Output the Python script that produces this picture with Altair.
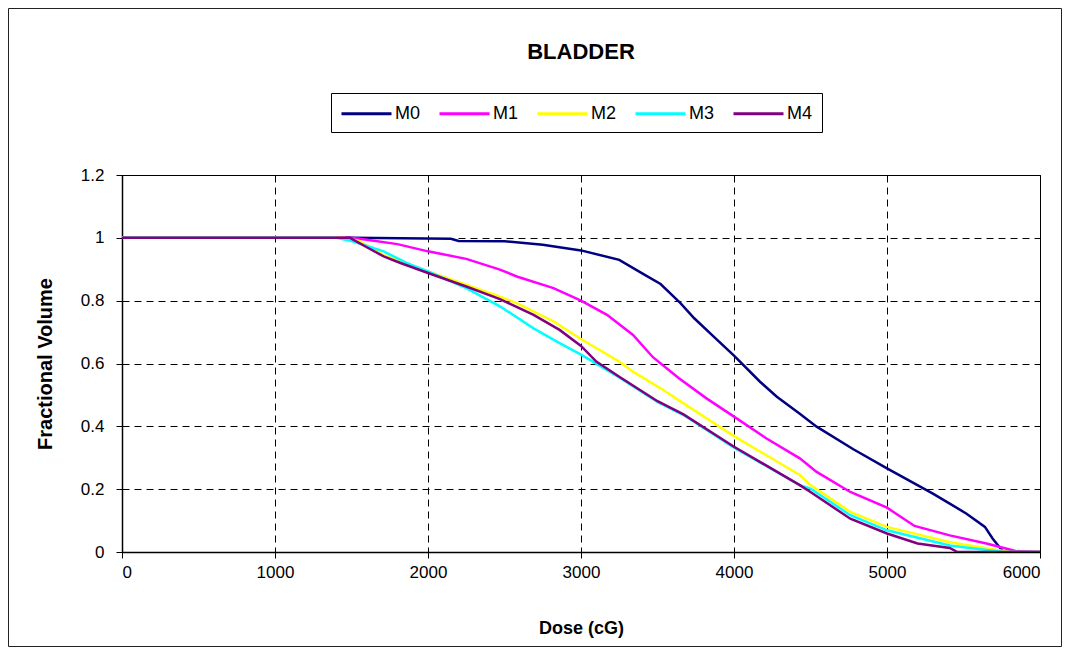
import altair as alt
import pandas as pd

# ---------------- data ----------------
series = ["M0", "M1", "M2", "M3", "M4"]
colors = ["#000080", "#FF00FF", "#FFFF00", "#00FFFF", "#800080"]

m0_dose = [0, 1500, 2150, 2200, 2500, 2750, 3000, 3250, 3400, 3520, 3650, 3740, 3890, 4000,
           4170, 4280, 4430, 4540, 4780, 5000, 5300, 5410, 5520, 5640, 5690, 5760, 6000]
m0_vol = [1, 1, 0.997, 0.99, 0.989, 0.978, 0.96, 0.93, 0.887, 0.853, 0.792, 0.744, 0.675, 0.625,
          0.542, 0.494, 0.44, 0.399, 0.327, 0.266, 0.186, 0.154, 0.122, 0.08, 0.043, 0, 0]

m1_dose = [0, 1500, 1600, 1800, 2000, 2250, 2470, 2580, 2820, 3000, 3170, 3340, 3470, 3640,
           3820, 4000, 4210, 4430, 4540, 4760, 5000, 5180, 5410, 5650, 5840, 6000]
m1_vol = [1, 1, 0.994, 0.98, 0.957, 0.933, 0.899, 0.877, 0.84, 0.8, 0.755, 0.691, 0.62, 0.553,
          0.489, 0.431, 0.362, 0.298, 0.255, 0.191, 0.141, 0.083, 0.053, 0.027, 0.003, 0]

m2_dose = [0, 1450, 1550, 1710, 2000, 2250, 2470, 2580, 2820, 3000, 3250, 3340, 3520, 3670,
           4000, 4430, 4500, 4760, 5000, 5410, 5740, 5800, 6000]
m2_vol = [1, 1, 0.99, 0.945, 0.893, 0.851, 0.813, 0.792, 0.734, 0.678, 0.606, 0.574, 0.521, 0.473,
          0.369, 0.245, 0.213, 0.128, 0.08, 0.031, 0.005, 0, 0]

m3_dose = [0, 1400, 1500, 1710, 1860, 2000, 2250, 2470, 2690, 2860, 3000, 3250, 3500, 3670,
           4000, 4430, 4500, 4760, 5000, 5410, 5760, 6000]
m3_vol = [1, 1, 0.99, 0.957, 0.92, 0.893, 0.84, 0.782, 0.712, 0.665, 0.628, 0.556, 0.478, 0.436,
          0.332, 0.213, 0.202, 0.117, 0.069, 0.021, 0, 0]

m4_dose = [0, 1490, 1600, 1710, 1820, 2000, 2250, 2470, 2690, 2860, 3000, 3100, 3250, 3500,
           3670, 4000, 4430, 4500, 4760, 5000, 5200, 5410, 5460, 6000]
m4_vol = [1, 1, 0.97, 0.941, 0.92, 0.888, 0.845, 0.805, 0.755, 0.707, 0.656, 0.606, 0.558, 0.48,
          0.438, 0.335, 0.213, 0.191, 0.106, 0.059, 0.027, 0.013, 0, 0]

x_ticks = [0, 1000, 2000, 3000, 4000, 5000, 6000]
y_ticks = [0, 0.2, 0.4, 0.6, 0.8, 1.0, 1.2]

rows = []
for name, doses, vols in [("M0", m0_dose, m0_vol), ("M1", m1_dose, m1_vol),
                          ("M2", m2_dose, m2_vol), ("M3", m3_dose, m3_vol),
                          ("M4", m4_dose, m4_vol)]:
    for i, (d, v) in enumerate(zip(doses, vols)):
        rows.append({"series": name, "dose": d, "vol": v, "idx": i})
df = pd.DataFrame(rows)

FONT = "Liberation Sans"
W, H = 918, 377
PAD = {"left": 114, "top": 167, "right": 22, "bottom": 95}

lines = alt.Chart(df).mark_line(strokeWidth=2.5, clip=True).encode(
    x=alt.X("dose:Q", scale=alt.Scale(domain=[0, 6000], nice=False),
            axis=alt.Axis(values=x_ticks, format="d", title="Dose (cG)",
                          labelPadding=6, titleY=76, titleBaseline="middle",
                          titleFontSize=18)),
    y=alt.Y("vol:Q", scale=alt.Scale(domain=[0, 1.2], nice=False),
            axis=alt.Axis(values=y_ticks, format=".1~f", title="Fractional Volume",
                          labelPadding=12, titleX=-77, titleY=H / 2,
                          titleBaseline="middle", titleAlign="center", titleAngle=-90,
                          titleFontSize=20)),
    color=alt.Color("series:N", scale=alt.Scale(domain=series, range=colors),
                    legend=alt.Legend(orient="none", legendX=209, legendY=-82,
                                      direction="horizontal", columns=5, title=None,
                                      symbolType="M-2.5,0H2.5", symbolSize=400,
                                      symbolOffset=15,
                                      symbolStrokeWidth=3, labelFont=FONT,
                                      labelFontSize=18, labelColor="black",
                                      strokeColor="black", fillColor="white",
                                      padding=9, columnPadding=12, labelOffset=17)),
    order="idx:Q",
)

border = alt.Chart(pd.DataFrame({"k": [0]})).mark_rect(
    fillOpacity=0, stroke="#222222", strokeWidth=1
).encode(
    x=alt.value(-113.5), x2=alt.value(W + PAD["right"] - 0.5),
    y=alt.value(-166.5), y2=alt.value(H + PAD["bottom"] - 0.5)
)

chart = alt.layer(border, lines).properties(
    width=W, height=H,
    title=alt.TitleParams("BLADDER", font=FONT, fontSize=22, fontWeight="bold",
                          color="black", anchor="middle", offset=-73,
                          baseline="alphabetic"),
    autosize=alt.AutoSizeParams(type="none"),
    padding=PAD,
    background="white",
).configure_view(
    stroke="black", strokeWidth=1
).configure_axis(
    grid=True, gridColor="black", gridDash=[7, 5], gridWidth=1, gridOpacity=1,
    domainColor="black", domainWidth=1.5, tickColor="black", tickSize=6,
    labelFont=FONT, labelFontSize=17, labelColor="black",
    titleFont=FONT, titleFontWeight="bold", titleColor="black",
)

chart.save("out.html", embed_options={"renderer": "svg", "actions": False})
